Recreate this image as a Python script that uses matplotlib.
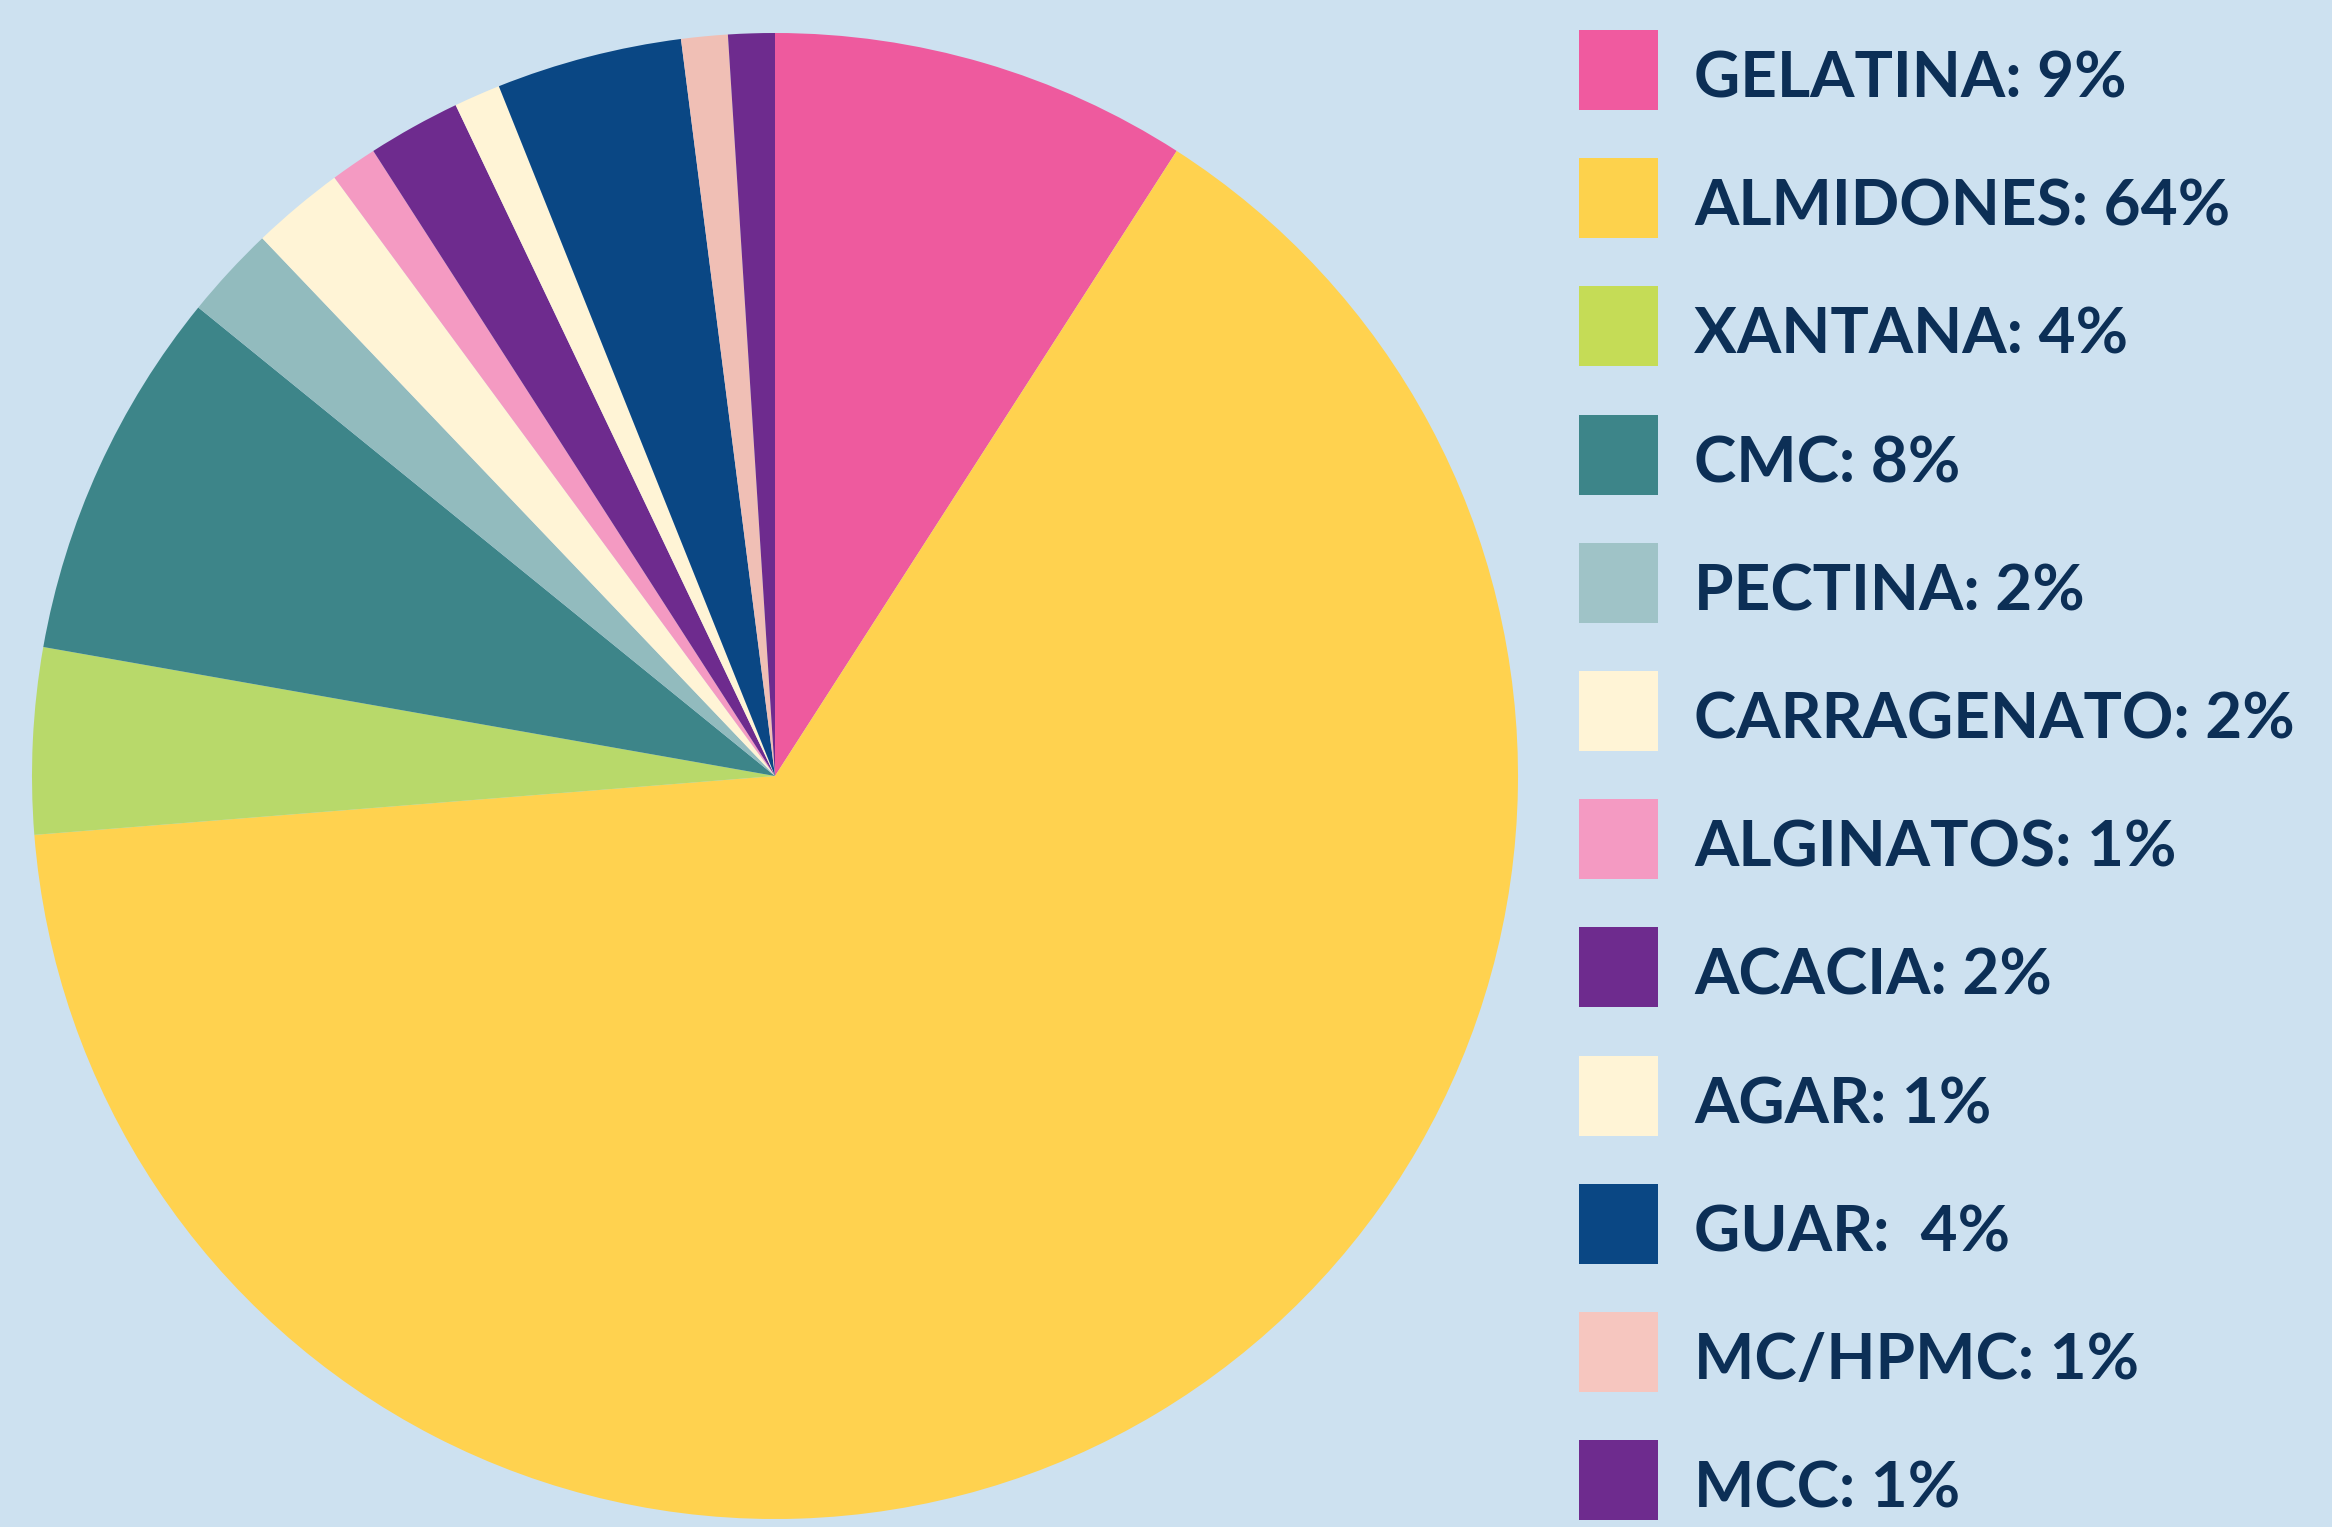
import matplotlib
matplotlib.use("Agg")
import matplotlib.pyplot as plt
from matplotlib.patches import Rectangle

categories = ["GELATINA", "ALMIDONES", "XANTANA", "CMC", "PECTINA", "CARRAGENATO",
              "ALGINATOS", "ACACIA", "AGAR", "GUAR", "MC/HPMC", "MCC"]
values = [9, 64, 4, 8, 2, 2, 1, 2, 1, 4, 1, 1]
label_sep = [": ", ": ", ": ", ": ", ": ", ": ", ": ", ": ", ": ", ":  ", ": ", ": "]
pie_colors = ["#EE5A9E", "#FFD24F", "#B8D96A", "#3D8589", "#92BBBE", "#FFF4D6",
              "#F49AC2", "#6E2B8E", "#FFF4D6", "#0A4784", "#F0BFB5", "#6E2B8E"]
legend_colors = ["#F05A9F", "#FDD24C", "#C5DC56", "#3D8589", "#9FC3C7", "#FFF4D6",
                 "#F49AC2", "#6E2B8E", "#FFF4D6", "#0A4784", "#F6C6BF", "#6E2B8E"]

BG = "#CDE1F0"
TXT = "#0C2F56"
W, H = 2332, 1527
fig = plt.figure(figsize=(W / 100, H / 100), dpi=100, facecolor=BG)

# pie axes
cx, cy, r = 775, 776, 743
ax = fig.add_axes([(cx - r) / W, (H - cy - r) / H, 2 * r / W, 2 * r / H])
ax.set_facecolor(BG)
ax.pie(values, colors=pie_colors, startangle=90, counterclock=False,
       radius=1, wedgeprops=dict(linewidth=0))
ax.set_xlim(-1, 1)
ax.set_ylim(-1, 1)
ax.set_aspect("equal")
ax.axis("off")

# legend
lax = fig.add_axes([0, 0, 1, 1])
lax.set_xlim(0, W)
lax.set_ylim(H, 0)
lax.axis("off")
first_y, step = 70, 128.2
for i, (cat, v) in enumerate(zip(categories, values)):
    yc = first_y + i * step
    lax.add_patch(Rectangle((1579, yc - 40), 79, 80, facecolor=legend_colors[i], edgecolor="none"))
    lax.text(1694, yc + 9, f"{cat}{label_sep[i]}{v}%", fontsize=46, fontweight="bold",
             family=["Lato", "DejaVu Sans"], color=TXT, va="center", ha="left")

fig.savefig("out.png", dpi=100, facecolor=BG)
